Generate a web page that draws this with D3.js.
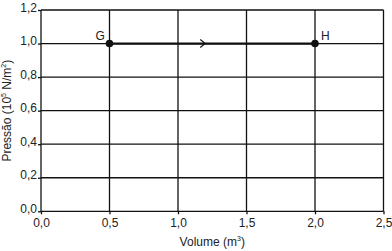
<!DOCTYPE html>
<html>
<head>
<meta charset="utf-8">
<script src="https://cdn.jsdelivr.net/npm/d3@7"></script>
<style>
  body { margin: 0; background: #fff; }
  svg text { font-family: "Liberation Sans Narrow", "Arial Narrow", "Liberation Sans", sans-serif; font-size: 12px; fill: #222; }
</style>
</head>
<body>
<div id="chart-area"></div>
<script>
const xTicks = [0, 0.5, 1.0, 1.5, 2.0, 2.5];
const yTicks = [0, 0.2, 0.4, 0.6, 0.8, 1.0, 1.2];
const pointLabels = ['G', 'H'];
const volumes = [0.5, 2.0];
const pressures = [1.0, 1.0];

const margin = { top: 10, right: 8.5, bottom: 39.7, left: 41 },
    width  = 392 - margin.left - margin.right,
    height = 251 - margin.top - margin.bottom;

const svg = d3.select('#chart-area')
    .append('svg')
    .attr('width', 392)
    .attr('height', 251)
    .append('g')
    .attr('transform', `translate(${margin.left},${margin.top})`);

const x = d3.scaleLinear().domain([0, 2.5]).range([0, width]);
const y = d3.scaleLinear().domain([0, 1.2]).range([height, 0]);
const fmt = d => d3.format('.1f')(d).replace('.', ',');

// grid
svg.append('g')
    .selectAll('line')
    .data(xTicks)
    .enter()
    .append('line')
    .attr('x1', d => x(d)).attr('x2', d => x(d))
    .attr('y1', 0).attr('y2', height)
    .attr('stroke', '#111').attr('stroke-width', 1.3);

svg.append('g')
    .selectAll('line')
    .data(yTicks)
    .enter()
    .append('line')
    .attr('x1', 0).attr('x2', width)
    .attr('y1', d => y(d)).attr('y2', d => y(d))
    .attr('stroke', '#111').attr('stroke-width', 1.3);

const xAxis = svg.append('g')
    .attr('transform', `translate(0, ${height})`)
    .call(d3.axisBottom(x).tickValues(xTicks).tickFormat(fmt).tickSize(3).tickPadding(2));
const yAxis = svg.append('g')
    .call(d3.axisLeft(y).tickValues(yTicks).tickFormat(fmt).tickSize(3).tickPadding(1));
[xAxis, yAxis].forEach(a => {
    a.select('.domain').remove();
    a.selectAll('line').attr('stroke', '#111').attr('stroke-width', 1.3);
    a.selectAll('text').attr('font-size', null).attr('font-family', null).attr('fill', '#222');
});
xAxis.selectAll('text').attr('dy', '0.9em');
yAxis.selectAll('text').attr('dy', '0.1em');

// process line
const pts = volumes.map((v, i) => ({ v: v, p: pressures[i], label: pointLabels[i] }));
svg.append('line')
    .attr('x1', x(pts[0].v)).attr('x2', x(pts[1].v))
    .attr('y1', y(pts[0].p)).attr('y2', y(pts[1].p))
    .attr('stroke', '#111').attr('stroke-width', 2.2);

const mid = x((pts[0].v + pts[1].v) / 2) - 9;
svg.append('path')
    .attr('d', `M${mid - 3},${y(1.0) - 4}L${mid + 2},${y(1.0)}L${mid - 3},${y(1.0) + 4}`)
    .attr('fill', 'none').attr('stroke', '#111').attr('stroke-width', 1.1);

svg.selectAll('.pt')
    .data(pts)
    .enter()
    .append('circle')
    .attr('class', 'pt')
    .attr('cx', d => x(d.v))
    .attr('cy', d => y(d.p))
    .attr('r', 3.8)
    .attr('fill', '#111');

svg.selectAll('.ptlabel')
    .data(pts)
    .enter()
    .append('text')
    .attr('class', 'ptlabel')
    .attr('x', (d, i) => x(d.v) + (i === 0 ? -14 : 6))
    .attr('y', d => y(d.p) - 4)
    .text(d => d.label);

svg.append('text')
    .attr('text-anchor', 'middle')
    .attr('x', width / 2)
    .attr('y', height + 35)
    .html('Volume (m<tspan font-size="7" dy="-5">3</tspan><tspan dy="5">)</tspan>');

svg.append('text')
    .attr('text-anchor', 'middle')
    .attr('transform', 'rotate(-90)')
    .attr('x', -height / 2)
    .attr('y', -margin.left + 11)
    .html('Pressão (10<tspan font-size="7" dy="-5">5</tspan><tspan dy="5"> N/m</tspan><tspan font-size="7" dy="-5">2</tspan><tspan dy="5">)</tspan>');
</script>
</body>
</html>
